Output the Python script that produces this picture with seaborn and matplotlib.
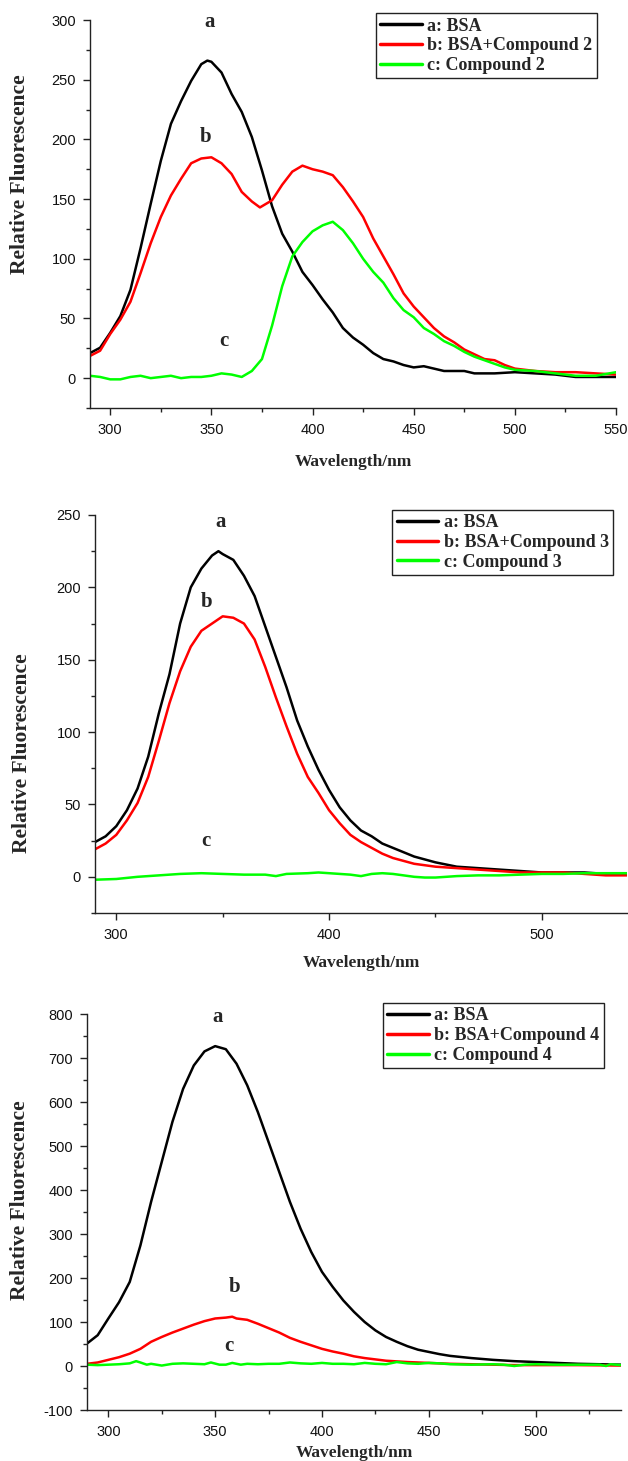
import numpy as np
import pandas as pd
import matplotlib
matplotlib.use("Agg")
import matplotlib.pyplot as plt
from matplotlib.lines import Line2D
from matplotlib.ticker import MultipleLocator
import seaborn as sns

# ---------------- data ----------------
# Panel 1 (Compound 2)
p1_a_x = [290, 295, 300, 305, 310, 315, 320, 325, 330, 335, 340, 345, 348, 350, 355, 360, 365, 370, 375, 380,
          385, 390, 395, 400, 405, 410, 415, 420, 425, 430, 435, 440, 445, 450, 455, 460, 465, 470, 475, 480,
          490, 500, 510, 520, 530, 540, 550]
p1_a_y = [21, 25.5, 38, 52, 74, 109, 146, 182, 213, 232, 249, 263, 266, 265, 256, 238, 223, 202, 174, 144,
          121, 106, 89, 78, 66, 55, 42, 34, 28, 21, 16, 14, 11, 9, 10, 8, 6, 6, 6, 4,
          4, 5, 4, 3, 1, 1, 1]
p1_b_x = [290, 295, 300, 305, 310, 315, 320, 325, 330, 335, 340, 345, 350, 355, 360, 365, 370, 374, 380, 385,
          390, 395, 400, 405, 410, 415, 420, 425, 430, 435, 440, 445, 450, 455, 460, 465, 470, 475, 480, 485,
          490, 495, 500, 510, 520, 530, 540, 550]
p1_b_y = [18.6, 23, 37, 49, 64, 88, 113, 135, 153, 167, 180, 184, 185, 180, 171, 156, 148, 143, 149, 162,
          173, 178, 175, 173, 170, 160, 148, 135, 117, 102, 87, 71, 60, 51, 42, 35, 30, 24, 20, 16,
          15, 11, 8, 6, 5, 5, 4, 3]
p1_c_x = [290, 295, 300, 305, 310, 315, 320, 325, 330, 335, 340, 345, 350, 355, 360, 365, 370, 375, 380, 385,
          390, 395, 400, 405, 410, 415, 420, 425, 430, 435, 440, 445, 450, 455, 460, 465, 470, 475, 480, 485,
          490, 495, 500, 510, 520, 530, 540, 550]
p1_c_y = [2, 1, -1, -1, 1, 2, 0, 1, 2, 0, 1, 1, 2, 4, 3, 1, 6, 16, 44, 77,
          102, 114, 123, 128, 131, 124, 113, 100, 89, 80, 67, 57, 51, 42, 37, 31, 27, 22, 18, 15,
          12, 9, 7, 6, 4, 2, 2, 5]

# Panel 2 (Compound 3)
p2_a_x = [290, 295, 300, 305, 310, 315, 320, 325, 330, 335, 340, 345, 348, 350, 355, 360, 365, 370, 375, 380,
          385, 390, 395, 400, 405, 410, 415, 420, 425, 430, 435, 440, 445, 450, 460, 470, 480, 490, 500, 510,
          520, 530, 540]
p2_a_y = [24, 28, 35, 46, 61, 83, 113, 140, 175, 200, 213, 222, 225, 223, 219, 208, 194, 173, 152, 131,
          108, 90, 74, 60, 48, 39, 32, 28, 23, 20, 17, 14, 12, 10, 7, 6, 5, 4, 3, 3,
          3, 2, 2]
p2_b_x = [290, 295, 300, 305, 310, 315, 320, 325, 330, 335, 340, 345, 350, 355, 360, 365, 370, 375, 380, 385,
          390, 395, 400, 405, 410, 415, 420, 425, 430, 435, 440, 450, 460, 470, 480, 490, 500, 510, 520, 530,
          540]
p2_b_y = [19, 23, 29, 39, 51, 69, 94, 120, 142, 159, 170, 175, 180, 179, 175, 164, 145, 124, 104, 85,
          69, 58, 46, 37, 29, 24, 20, 16, 13, 11, 9, 7, 6, 5, 4, 3, 3, 3, 2, 1,
          1]
p2_c_x = [290, 300, 310, 320, 330, 340, 350, 360, 370, 375, 380, 390, 395, 400, 410, 415, 420, 425, 430, 440,
          445, 450, 460, 470, 480, 490, 500, 510, 520, 530, 540]
p2_c_y = [-2, -1.5, 0, 1, 2, 2.5, 2, 1.5, 1.5, 0.5, 2, 2.5, 3, 2.5, 1.5, 0.5, 2, 2.5, 2, 0,
          -0.5, -0.5, 0.5, 1, 1, 1.5, 2, 2, 2.5, 2.5, 2.5]

# Panel 3 (Compound 4)
p3_a_x = [290, 295, 300, 305, 310, 315, 320, 325, 330, 335, 340, 345, 350, 355, 360, 365, 370, 375, 380, 385,
          390, 395, 400, 405, 410, 415, 420, 425, 430, 435, 440, 445, 450, 455, 460, 470, 480, 490, 500, 510,
          520, 530, 540]
p3_a_y = [51, 70, 108, 145, 191, 274, 373, 464, 555, 630, 683, 715, 727, 720, 687, 638, 577, 509, 441, 373,
          312, 259, 214, 180, 149, 123, 100, 81, 66, 55, 45, 37, 32, 27, 23, 18, 14, 11, 9, 7,
          5, 4, 3]
p3_b_x = [290, 295, 300, 305, 310, 315, 320, 325, 330, 335, 340, 345, 350, 355, 358, 360, 365, 370, 375, 380,
          385, 390, 395, 400, 405, 410, 415, 420, 425, 430, 440, 450, 460, 470, 480, 490, 500, 520, 540]
p3_b_y = [5, 8, 14, 20, 28, 39, 55, 66, 76, 85, 94, 102, 108, 110, 112, 108, 105, 96, 86, 76,
          64, 55, 47, 39, 33, 28, 22, 18, 15, 12, 9, 7, 5, 4, 3, 2, 2, 2, 1]
p3_c_x = [290, 295, 300, 305, 310, 313, 315, 318, 320, 325, 330, 335, 340, 345, 348, 352, 355, 358, 362, 365,
          370, 375, 380, 385, 390, 395, 400, 405, 410, 415, 420, 425, 430, 435, 440, 445, 450, 455, 460, 470,
          480, 485, 490, 495, 500, 510, 520, 530, 533, 535, 540]
p3_c_y = [3, 2, 3, 4, 6, 11, 8, 3, 5, 1, 5, 6, 5, 4, 8, 3, 3, 7, 3, 5,
          4, 5, 5, 8, 6, 5, 7, 5, 5, 4, 7, 5, 4, 9, 6, 5, 7, 6, 4, 3,
          4, 3, 0, 3, 4, 3, 3, 3, 0, 4, 2]

labels_p1 = ["a: BSA", "b: BSA+Compound 2", "c: Compound 2"]
labels_p2 = ["a: BSA", "b: BSA+Compound 3", "c: Compound 3"]
labels_p3 = ["a: BSA", "b: BSA+Compound 4", "c: Compound 4"]
colors = ["#000000", "#FF0000", "#00FF00"]

# ---------------- style ----------------
sns.set_style("ticks")
plt.rcParams["font.family"] = ["Liberation Sans", "DejaVu Sans"]
plt.rcParams["axes.unicode_minus"] = False
serif = ["Liberation Serif", "DejaVu Serif"]

fig = plt.figure(figsize=(6.28, 14.61), dpi=100)


def make_df(xs, ys, labels):
    frames = []
    for x, y, lab in zip(xs, ys, labels):
        frames.append(pd.DataFrame({"Wavelength": x, "Fluorescence": y, "series": lab}))
    return pd.concat(frames, ignore_index=True)


panels = [
    dict(rect=[90 / 628, 1 - 408 / 1461, 526 / 628, 388 / 1461],
         xs=[p1_a_x, p1_b_x, p1_c_x], ys=[p1_a_y, p1_b_y, p1_c_y], labels=labels_p1,
         xlim=(290, 550), ylim=(-25, 300), xmaj=50, ymaj=50,
         ann=[("a", 349, 298), ("b", 347, 202), ("c", 356, 31)],
         leg=(0.964, 1.018), xl=-0.139, yl=(-0.133, 0.603)),
    dict(rect=[95 / 628, 1 - 913 / 1461, 532 / 628, 398 / 1461],
         xs=[p2_a_x, p2_b_x, p2_c_x], ys=[p2_a_y, p2_b_y, p2_c_y], labels=labels_p2,
         xlim=(290, 540), ylim=(-25, 250), xmaj=100, ymaj=50,
         ann=[("a", 349, 245), ("b", 342.5, 190), ("c", 342, 25)],
         leg=(0.974, 1.013), xl=-0.126, yl=(-0.137, 0.402)),
    dict(rect=[87 / 628, 1 - 1410 / 1461, 534 / 628, 396 / 1461],
         xs=[p3_a_x, p3_b_x, p3_c_x], ys=[p3_a_y, p3_b_y, p3_c_y], labels=labels_p3,
         xlim=(290, 540), ylim=(-100, 800), xmaj=50, ymaj=100,
         ann=[("a", 351, 794), ("b", 359, 180), ("c", 356.5, 46)],
         leg=(0.968, 1.028), xl=-0.109, yl=(-0.126, 0.530)),
]

for p in panels:
    ax = fig.add_axes(p["rect"])
    df = make_df(p["xs"], p["ys"], p["labels"])
    sns.lineplot(data=df, x="Wavelength", y="Fluorescence", hue="series",
                 palette=dict(zip(p["labels"], colors)), linewidth=1.8,
                 legend=False, ax=ax, sort=True, estimator=None)
    ax.set_xlim(*p["xlim"])
    ax.set_ylim(*p["ylim"])
    ax.xaxis.set_major_locator(MultipleLocator(p["xmaj"]))
    ax.xaxis.set_minor_locator(MultipleLocator(p["xmaj"] / 2))
    ax.yaxis.set_major_locator(MultipleLocator(p["ymaj"]))
    ax.yaxis.set_minor_locator(MultipleLocator(p["ymaj"] / 2))
    for s in ["top", "right"]:
        ax.spines[s].set_visible(False)
    for s in ["left", "bottom"]:
        ax.spines[s].set_linewidth(1.0)
        ax.spines[s].set_color("#222222")
    ax.tick_params(which="major", direction="out", length=5, width=1.0, color="#222222",
                   labelsize=10.5, labelcolor="#111111")
    ax.tick_params(which="minor", direction="out", length=3, width=1.0, color="#222222")
    ax.tick_params(axis="x", which="major", pad=5.5)
    ax.tick_params(axis="y", which="major", pad=5)

    ax.set_xlabel("Wavelength/nm", fontsize=12.5, fontweight="bold", family=serif)
    ax.set_ylabel("Relative Fluorescence", fontsize=15.5, fontweight="bold", family=serif)
    ax.xaxis.set_label_coords(0.5, p["xl"])
    ax.xaxis.label.set_va("center")
    ax.yaxis.set_label_coords(*p["yl"])
    ax.yaxis.label.set_va("center")

    for t, x, y in p["ann"]:
        ax.text(x, y, t, fontsize=15, fontweight="bold", family=serif,
                ha="center", va="center")

    handles = [Line2D([0], [0], color=c, lw=2.5) for c in colors]
    leg = ax.legend(handles, p["labels"], loc="upper right", bbox_to_anchor=p["leg"],
                    frameon=True, fancybox=False, framealpha=1, edgecolor="#222222",
                    borderpad=0.25, labelspacing=0.15, handlelength=2.3, handletextpad=0.3,
                    borderaxespad=0, prop=dict(family=serif, weight="bold", size=13))
    leg.get_frame().set_linewidth(1.0)

fig.savefig("out.png", dpi=100)
